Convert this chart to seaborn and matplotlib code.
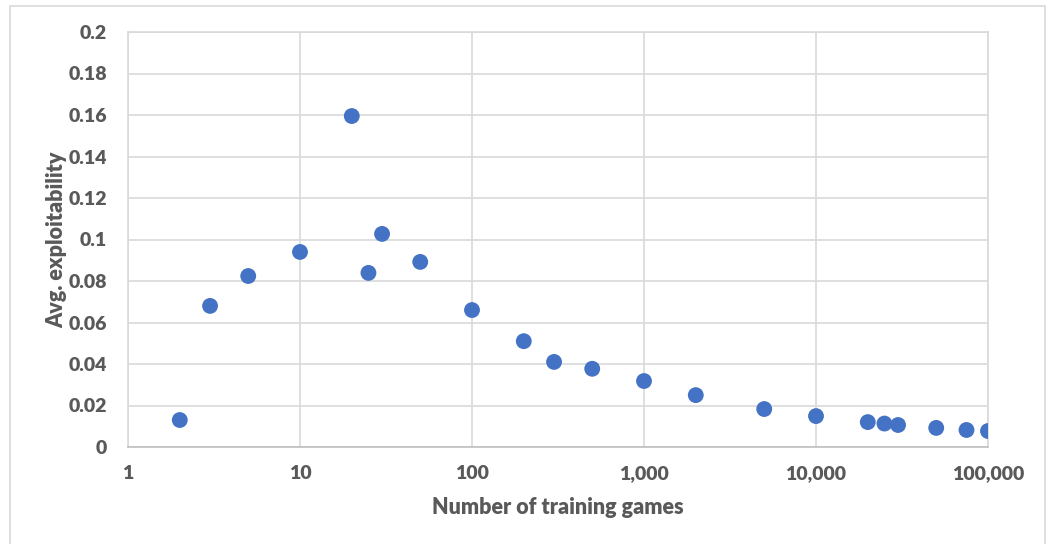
import numpy as np
import pandas as pd
import seaborn as sns
import matplotlib.pyplot as plt
from matplotlib.patches import Rectangle
from matplotlib.ticker import FixedLocator, FuncFormatter, NullLocator

training_games = [2, 3, 5, 10, 20, 25, 30, 50, 100, 200, 300, 500, 1000,
                  2000, 5000, 10000, 20000, 25000, 30000, 50000, 75000, 100000]
exploitability = [0.013, 0.068, 0.0824, 0.094, 0.1595, 0.0839, 0.1027, 0.0892,
                  0.066, 0.051, 0.041, 0.0377, 0.0318, 0.025, 0.0183, 0.0149,
                  0.012, 0.0113, 0.0106, 0.0092, 0.0082, 0.0077]
x_ticks = [1, 10, 100, 1000, 10000, 100000]
y_ticks = [0, 0.02, 0.04, 0.06, 0.08, 0.1, 0.12, 0.14, 0.16, 0.18, 0.2]

df = pd.DataFrame({'games': training_games, 'expl': exploitability})

sns.set_style('white')
plt.rcParams['font.family'] = ['Lato', 'DejaVu Sans']

grey = '#595959'
grid = '#d9d9d9'

fig = plt.figure(figsize=(10.52, 5.44), dpi=100)
ax = fig.add_axes([128 / 1052, 1 - 447 / 544, 860 / 1052, 415 / 544])

sns.scatterplot(data=df, x='games', y='expl', ax=ax, color='#4472C4',
                s=130, edgecolor='none', zorder=3)

ax.set_xscale('log')
ax.set_xlim(1, 100000)
ax.set_ylim(0, 0.2)
ax.xaxis.set_major_locator(FixedLocator(x_ticks))
ax.xaxis.set_minor_locator(NullLocator())
ax.xaxis.set_major_formatter(FuncFormatter(lambda v, p: f'{int(round(v)):,}'))
ax.set_yticks(y_ticks)
ax.set_yticklabels([f'{v:g}' for v in y_ticks])

ax.grid(True, color=grid, linewidth=1.2)
ax.set_axisbelow(True)
for side in ['top', 'right', 'left']:
    ax.spines[side].set_color(grid)
    ax.spines[side].set_linewidth(1.2)
ax.spines['bottom'].set_color('#bfbfbf')
ax.spines['bottom'].set_linewidth(1.2)

ax.tick_params(axis='both', length=0, labelsize=14, labelcolor=grey)
ax.tick_params(axis='x', pad=13)
ax.tick_params(axis='y', pad=15)
for lbl in ax.get_xticklabels() + ax.get_yticklabels():
    lbl.set_fontweight('heavy')

ax.set_xlabel('Number of training games', fontsize=15.5, fontweight='heavy',
              color=grey, labelpad=11)
ax.set_ylabel('Avg. exploitability', fontsize=15.5, fontweight='heavy',
              color=grey, labelpad=1)

# light chart-area border like the spreadsheet export
fig.patches.append(Rectangle((10 / 1052, -0.01), 1035 / 1052, 1 - 6 / 544 + 0.01,
                             transform=fig.transFigure, fill=False,
                             edgecolor=grid, linewidth=1.2))

fig.savefig('out.png', dpi=100)
plt.close(fig)
